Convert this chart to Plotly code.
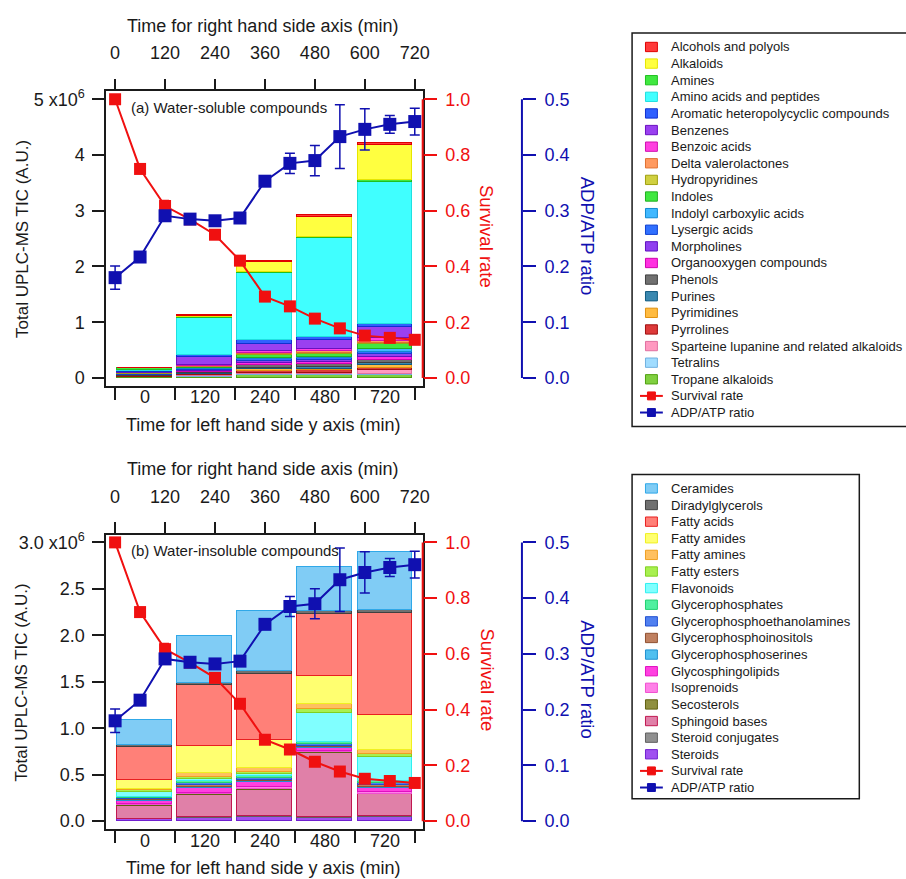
import plotly.graph_objects as go

# ---------------- data ----------------
time_min = [0, 60, 120, 180, 240, 300, 360, 420, 480, 540, 600, 660, 720]
survival_rate = [1.0, 0.75, 0.617, 0.569, 0.514, 0.421, 0.292, 0.257, 0.213, 0.178, 0.152, 0.144, 0.137]
survival_err = [0, 0, 0.02, 0, 0, 0, 0, 0, 0, 0, 0, 0, 0]
adp_atp_ratio = [0.180, 0.217, 0.291, 0.285, 0.282, 0.287, 0.353, 0.385, 0.390, 0.433, 0.446, 0.455, 0.460]
adp_atp_err = [0.021, 0, 0.006, 0, 0, 0, 0, 0.018, 0.027, 0.057, 0.037, 0.016, 0.024]

bar_time_labels = ["0", "120", "240", "480", "720"]

soluble_classes = [
    "Alcohols and polyols", "Alkaloids", "Amines", "Amino acids and peptides",
    "Aromatic heteropolycyclic compounds", "Benzenes", "Benzoic acids",
    "Delta valerolactones", "Hydropyridines", "Indoles", "Indolyl carboxylic acids",
    "Lysergic acids", "Morpholines", "Organooxygen compounds", "Phenols", "Purines",
    "Pyrimidines", "Pyrrolines", "Sparteine lupanine and related alkaloids",
    "Tetralins", "Tropane alkaloids",
]
# values in units of 10^6 A.U., one list per time point (same order as classes)
soluble_t0 = [0.005, 0.0, 0.025, 0.02, 0.015, 0.02, 0.005, 0.005, 0.005, 0.005, 0.01,
              0.005, 0.01, 0.005, 0.005, 0.005, 0.005, 0.01, 0.005, 0.005, 0.005]
soluble_t120 = [0.02, 0.02, 0.015, 0.67, 0.03, 0.14, 0.02, 0.015, 0.01, 0.02, 0.015,
                0.015, 0.02, 0.02, 0.015, 0.01, 0.015, 0.02, 0.01, 0.015, 0.015]
soluble_t240 = [0.03, 0.17, 0.02, 1.21, 0.07, 0.12, 0.04, 0.02, 0.02, 0.04, 0.03,
                0.03, 0.04, 0.04, 0.04, 0.03, 0.03, 0.04, 0.02, 0.02, 0.04]
soluble_t480 = [0.03, 0.35, 0.02, 1.78, 0.06, 0.15, 0.04, 0.03, 0.02, 0.05, 0.03,
                0.03, 0.04, 0.04, 0.05, 0.03, 0.03, 0.05, 0.02, 0.02, 0.04]
soluble_t720 = [0.03, 0.64, 0.03, 2.55, 0.05, 0.20, 0.05, 0.03, 0.03, 0.08, 0.05,
                0.04, 0.06, 0.05, 0.06, 0.04, 0.05, 0.04, 0.06, 0.03, 0.04]

insoluble_classes = [
    "Ceramides", "Diradylglycerols", "Fatty acids", "Fatty amides", "Fatty amines",
    "Fatty esters", "Flavonoids", "Glycerophosphates", "Glycerophosphoethanolamines",
    "Glycerophosphoinositols", "Glycerophosphoserines", "Glycosphingolipids",
    "Isoprenoids", "Secosterols", "Sphingoid bases", "Steroid conjugates", "Steroids",
]
insoluble_t0 = [0.27, 0.015, 0.36, 0.10, 0.01, 0.015, 0.06, 0.01, 0.01, 0.015, 0.01,
                0.03, 0.01, 0.005, 0.14, 0.005, 0.025]
insoluble_t120 = [0.50, 0.025, 0.65, 0.295, 0.045, 0.015, 0.03, 0.02, 0.02, 0.015, 0.015,
                  0.05, 0.02, 0.01, 0.23, 0.01, 0.04]
insoluble_t240 = [0.645, 0.03, 0.71, 0.30, 0.045, 0.02, 0.03, 0.015, 0.02, 0.015, 0.015,
                  0.05, 0.02, 0.01, 0.28, 0.01, 0.05]
insoluble_t480 = [0.48, 0.03, 0.67, 0.30, 0.05, 0.04, 0.32, 0.02, 0.02, 0.01, 0.01,
                  0.03, 0.01, 0.01, 0.69, 0.01, 0.04]
insoluble_t720 = [0.63, 0.03, 1.09, 0.38, 0.04, 0.04, 0.26, 0.02, 0.02, 0.02, 0.01,
                  0.04, 0.02, 0.01, 0.23, 0.01, 0.05]

# ---------------- styles ----------------
soluble_fill = ["#ff3a3a", "#ffff40", "#40e840", "#40ffff", "#3060ff", "#9a40f0", "#ff40e0",
                "#ff9a60", "#d0d040", "#40e840", "#40b8ff", "#3070ff", "#9040f0", "#ff30e0",
                "#707070", "#3a88b0", "#ffbb40", "#dd3a3a", "#ff99c0", "#a0dcff", "#80d040"]
soluble_edge = ["#e00000", "#e6e600", "#20c020", "#20e0e0", "#1030d0", "#6a10c0", "#d010b0",
                "#e07030", "#a0a010", "#20b020", "#1088d0", "#1040d0", "#6010c0", "#d000b0",
                "#404040", "#105a80", "#e09010", "#a01010", "#e070a0", "#70b0e0", "#50a010"]
insoluble_fill = ["#80ccf5", "#707070", "#ff8078", "#ffff70", "#ffc060", "#a8f050", "#80ffff",
                  "#50f0a0", "#5080f0", "#c08060", "#50c0f0", "#ff40e0", "#ff80e8", "#909040",
                  "#e080a8", "#909090", "#a050f0"]
insoluble_edge = ["#30a8e8", "#404040", "#e82020", "#f0f020", "#f0a020", "#80d020", "#30f0f0",
                  "#20d070", "#2050d0", "#905030", "#2090d0", "#e010c0", "#f050d0", "#606010",
                  "#c01850", "#606060", "#7020d0"]

RED = "#f01010"
BLUE = "#1010b0"
BLACK = "#1a1a1a"
FONT = "Liberation Sans, Arial, sans-serif"
W, H = 906, 879


def px(x):
    return x / W


def py(y):
    return 1 - y / H


fig = go.Figure()

panels = [
    dict(classes=soluble_classes, cols=[soluble_t0, soluble_t120, soluble_t240, soluble_t480, soluble_t720],
         fill=soluble_fill, edge=soluble_edge, xb="x", yb="y", xt="x2", ys="y2", ya="y3"),
    dict(classes=insoluble_classes, cols=[insoluble_t0, insoluble_t120, insoluble_t240, insoluble_t480, insoluble_t720],
         fill=insoluble_fill, edge=insoluble_edge, xb="x3", yb="y4", xt="x4", ys="y5", ya="y6"),
]

for p in panels:
    n = len(p["classes"])
    # stack bottom -> top is reverse of legend order
    for i in reversed(range(n)):
        fig.add_trace(go.Bar(
            x=bar_time_labels, y=[col[i] for col in p["cols"]], name=p["classes"][i],
            marker=dict(color=p["fill"][i], line=dict(color=p["edge"][i], width=1)),
            width=0.91, xaxis=p["xb"], yaxis=p["yb"], showlegend=False,
        ))
    fig.add_trace(go.Scatter(
        x=time_min, y=survival_rate, name="Survival rate", mode="lines+markers",
        line=dict(color=RED, width=2), marker=dict(symbol="square", size=12, color=RED),
        error_y=dict(type="data", array=survival_err, color=RED, thickness=1.5, width=4),
        xaxis=p["xt"], yaxis=p["ys"], cliponaxis=False, showlegend=False,
    ))
    fig.add_trace(go.Scatter(
        x=time_min, y=adp_atp_ratio, name="ADP/ATP ratio", mode="lines+markers",
        line=dict(color=BLUE, width=2), marker=dict(symbol="square", size=13, color=BLUE),
        error_y=dict(type="data", array=adp_atp_err, color=BLUE, thickness=1.5, width=5),
        xaxis=p["xt"], yaxis=p["ya"], cliponaxis=False, showlegend=False,
    ))

TS = 18
tickfont = dict(family=FONT, size=TS, color=BLACK)
common = dict(showgrid=False, zeroline=False, fixedrange=True)

xdom = [px(107), px(426)]
top_dom = [py(384), py(87)]
bot_dom = [py(831), py(534)]


def cat_axis(anchor):
    return dict(domain=xdom, anchor=anchor, type="category", range=[-0.645, 4.628],
                tickson="boundaries", ticks="outside", ticklen=12, tickwidth=1.5, tickcolor=BLACK,
                ticklabelstandoff=-6,
                showline=True, linecolor=BLACK, linewidth=1.5, tickfont=tickfont, **common)


def time_axis(over, anchor):
    return dict(overlaying=over, side="top", anchor=anchor, range=[-21.46, 739.07],
                tickvals=[0, 120, 240, 360, 480, 600, 720], ticks="outside", ticklen=11, tickwidth=1.5,
                ticklabelstandoff=12,
                tickcolor=BLACK, showline=True, linecolor=BLACK, linewidth=1.5, tickfont=tickfont, **common)


def left_axis(dom, anchor, rng, vals, text):
    return dict(domain=dom, anchor=anchor, range=rng, tickvals=vals, ticktext=text,
                ticks="outside", ticklen=12, tickwidth=1.5, tickcolor=BLACK, ticklabelstandoff=4,
                showline=True, mirror=True, linecolor=BLACK, linewidth=1.5, tickfont=tickfont, **common)


def surv_axis(over, anchor, rng):
    return dict(overlaying=over, side="right", anchor=anchor, range=rng,
                tickvals=[0, 0.2, 0.4, 0.6, 0.8, 1.0], tickformat=".1f", ticks="outside", ticklen=13,
                tickwidth=1.5, tickcolor=RED, showline=False, ticklabelstandoff=5,
                tickfont=dict(family=FONT, size=TS, color=RED), **common)


def adp_axis(over, rng):
    return dict(overlaying=over, side="right", anchor="free", position=px(526), range=rng,
                tickvals=[0, 0.1, 0.2, 0.3, 0.4, 0.5], tickformat=".1f", ticks="outside", ticklen=13,
                tickwidth=1.5, tickcolor=BLUE, showline=False, ticklabelstandoff=5,
                tickfont=dict(family=FONT, size=TS, color=BLUE), **common)


layout_axes = dict(
    xaxis=cat_axis("y"),
    xaxis2=time_axis("x", "y"),
    yaxis=left_axis(top_dom, "x", [-0.1423, 5.1423], [0, 1, 2, 3, 4, 5],
                    ["0", "1", "2", "3", "4", "5 x10<sup>6</sup>"]),
    yaxis2=surv_axis("y", "x", [-0.0285, 1.0285]),
    yaxis3=adp_axis("y", [-0.01425, 0.51425]),
    xaxis3=cat_axis("y4"),
    xaxis4=time_axis("x3", "y4"),
    yaxis4=left_axis(bot_dom, "x3", [-0.0886, 3.0822], [0, 0.5, 1.0, 1.5, 2.0, 2.5, 3.0],
                     ["0.0", "0.5", "1.0", "1.5", "2.0", "2.5", "3.0 x10<sup>6</sup>"]),
    yaxis5=surv_axis("y4", "x3", [-0.02954, 1.0274]),
    yaxis6=adp_axis("y4", [-0.01477, 0.5137]),
)

shapes = []
annotations = []

# coloured right-hand axis lines spanning their value range
for ys, ya in (("y2", "y3"), ("y5", "y6")):
    shapes.append(dict(type="line", xref="paper", yref=ys, x0=px(426), x1=px(426), y0=0, y1=1,
                       line=dict(color=RED, width=2), layer="above"))
    shapes.append(dict(type="line", xref="paper", yref=ya, x0=px(526), x1=px(526), y0=0, y1=0.5,
                       line=dict(color=BLUE, width=2), layer="above"))


# axis titles
def title(text, x, y, size=18, color=BLACK, angle=0, xanchor="center"):
    annotations.append(dict(text=text, x=px(x), y=py(y), xref="paper", yref="paper", showarrow=False,
                            textangle=angle, xanchor=xanchor, yanchor="middle",
                            font=dict(family=FONT, size=size, color=color)))


for dy in (0, 447):
    title("Time for right hand side axis (min)", 265, 21 + dy)
    title("Time for left hand side y axis (min)", 265, 423 + dy)
    title("Total UPLC-MS TIC (A.U.)", 22, 236 + dy, size=17, angle=-90)
    title("Survival rate", 491, 233 + dy, size=18.5, color=RED, angle=90)
    title("ADP/ATP ratio", 592, 233 + dy, size=18.5, color=BLUE, angle=90)

title("(a) Water-soluble compounds", 130, 103, size=15, xanchor="left")
title("(b) Water-insoluble compounds", 130, 550, size=15, xanchor="left")


# legends drawn as boxes with swatches and text
def legend(classes, fill, edge, box, y_first):
    x0, y0, x1, y1 = box
    shapes.append(dict(type="rect", xref="paper", yref="paper", x0=px(x0), x1=px(x1), y0=py(y0), y1=py(y1),
                       line=dict(color=BLACK, width=1.5), fillcolor="rgba(0,0,0,0)"))
    step = 16.75
    items = list(zip(classes, fill, edge)) + [("Survival rate", RED, None), ("ADP/ATP ratio", BLUE, None)]
    for k, (name, fc, ec) in enumerate(items):
        yc = y_first + k * step
        if ec is not None:
            shapes.append(dict(type="rect", xref="paper", yref="paper", x0=px(650.5), x1=px(662.5),
                               y0=py(yc + 4.7), y1=py(yc - 4.7), fillcolor=fc, line=dict(color=ec, width=1)))
        else:
            shapes.append(dict(type="line", xref="paper", yref="paper", x0=px(645), x1=px(668),
                               y0=py(yc), y1=py(yc), line=dict(color=fc, width=2)))
            shapes.append(dict(type="rect", xref="paper", yref="paper", x0=px(652.5), x1=px(660.5),
                               y0=py(yc + 4), y1=py(yc - 4), fillcolor=fc, line=dict(color=fc, width=1)))
        annotations.append(dict(text=name, x=px(674), y=py(yc), xref="paper", yref="paper", showarrow=False,
                                xanchor="left", yanchor="middle",
                                font=dict(family=FONT, size=13, color=BLACK)))


legend(soluble_classes, soluble_fill, soluble_edge, (637, 28.3, 915, 425), 42.3)
legend(insoluble_classes, insoluble_fill, insoluble_edge, (637, 473.3, 866, 800), 487.3)

fig.update_layout(
    width=W, height=H, autosize=False,
    margin=dict(l=0, r=0, t=0, b=0, pad=0),
    paper_bgcolor="white", plot_bgcolor="white",
    barmode="stack", bargap=0,
    font=dict(family=FONT, size=13, color=BLACK),
    shapes=shapes, annotations=annotations, showlegend=False,
    **layout_axes,
)

# place the figure at the page origin (remove the default 8 px body margin), no mode bar
fig.write_html("out.html", config={"displayModeBar": False},
               post_script="document.body.style.margin='0';document.body.style.overflow='hidden';")
